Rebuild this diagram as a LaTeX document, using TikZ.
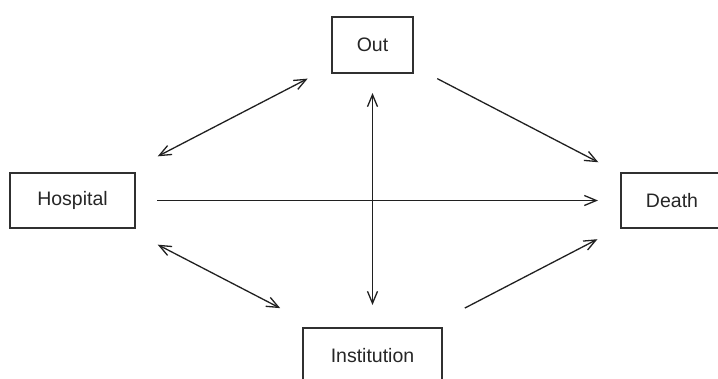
\documentclass[tikz,border=0pt]{standalone}
\usepackage{fontspec}
\setmainfont{Liberation Sans}
\usepackage{tikz}
\usetikzlibrary{arrows.meta}
\definecolor{boxline}{HTML}{303030}
\definecolor{arrowline}{HTML}{202020}

\begin{document}
\begin{tikzpicture}[
  x=1pt, y=-1pt,
  stage/.style={draw=boxline, line width=1.3pt, fill=white, inner sep=0pt,
                font=\fontsize{19.5}{22}\selectfont, text=black!85},
  trans/.style={-{Straight Barb[length=12pt, width=10pt, line width=1.3pt]},
                line width=1.3pt, draw=arrowline},
  both/.style={trans, {Straight Barb[length=12pt, width=10pt, line width=1.3pt]}-{Straight Barb[length=12pt, width=10pt, line width=1.3pt]}}
]
  \useasboundingbox (0,0) rectangle (718,378);

  \node[stage, minimum width=81pt, minimum height=56pt] (out) at (372.5,45) {Out};
  \node[stage, minimum width=125pt, minimum height=55pt] (hospital) at (72.5,200.5) {Hospital};
  \node[stage, minimum width=102pt, minimum height=55pt] (death) at (672,200.5) {Death};
  \node[stage, minimum width=139pt, minimum height=56pt] (institution) at (372.5,356) {Institution};

  \draw[both, shorten <=96pt, shorten >=73pt] (hospital.center) -- (out.center);
  \draw[both, shorten <=96pt, shorten >=104pt] (hospital.center) -- (institution.center);
  \draw[both, shorten <=48pt, shorten >=51pt] (out.center) -- (institution.center);
  \draw[trans, shorten <=73pt, shorten >=83pt] (out.center) -- (death.center);
  \draw[trans, shorten <=84.5pt, shorten >=74pt] (hospital.center) -- (death.center);
  \draw[trans, shorten <=104pt, shorten >=84pt] (institution.center) -- (death.center);
\end{tikzpicture}
\end{document}
